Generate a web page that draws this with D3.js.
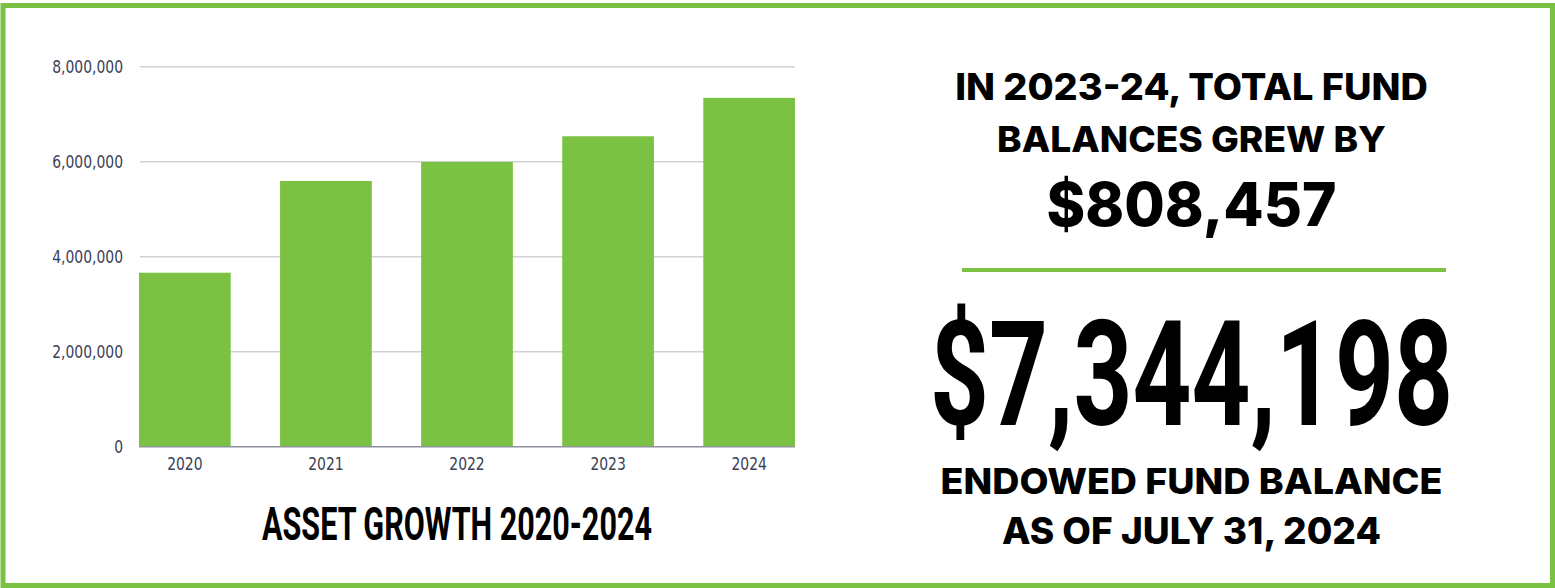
<!DOCTYPE html>
<html>
<head>
<meta charset="utf-8">
<script src="https://cdn.jsdelivr.net/npm/d3@7"></script>
<style>
	body { margin: 0; background: #fff; }
	svg { display: block; }
	.tick text { font-family: 'DejaVu Sans Condensed', 'Liberation Sans Narrow', sans-serif; font-size: 18px; fill: #3b4257; }
	.grid line { stroke: #cfd2d8; stroke-width: 1.5px; }
	.hl { font-family: Inter, 'Open Sans', sans-serif; font-weight: 800; fill: #000; }
	.cond { font-family: Roboto, 'DejaVu Sans Condensed', sans-serif; font-weight: 700; fill: #000; }
</style>
</head>
<body>
<svg id="chart"></svg>
<script>
'use strict';
//Chart data.
const years = ['2020', '2021', '2022', '2023', '2024'];
const balances = [3663000, 5594000, 5995000, 6535741, 7344198];
const yTicks = [0, 2000000, 4000000, 6000000, 8000000];
//Headline texts on the right.
const topLines = ['IN 2023-24, TOTAL FUND', 'BALANCES GREW BY'];
const growth = '$808,457';
const total = '$7,344,198';
const bottomLines = ['ENDOWED FUND BALANCE', 'AS OF JULY 31, 2024'];
const title = 'ASSET GROWTH 2020-2024';

const W = 1555, H = 588;
const green = '#7bc143';
const svg = d3.select('#chart').attr('width', W).attr('height', H);

//Green frame round the whole picture.
svg.append('rect')
	.attr('x', 3).attr('y', 5.5)
	.attr('width', W - 5.5).attr('height', H - 8)
	.style('fill', 'none')
	.style('stroke', green)
	.style('stroke-width', 5);

const x = d3.scaleBand().domain(years).range([139, 795]).paddingInner(0.35).paddingOuter(0);
const y = d3.scaleLinear().domain([0, 8000000]).range([446.7, 66.7]);

//Gridlines.
svg.append('g')
	.attr('class', 'grid')
	.selectAll('line')
	.data(yTicks.slice(1))
	.join('line')
	.attr('x1', 140).attr('x2', 795)
	.attr('y1', d => y(d)).attr('y2', d => y(d));

//Bars.
svg.append('g')
	.selectAll('rect')
	.data(balances)
	.join('rect')
	.attr('x', (d, i) => x(years[i]))
	.attr('y', d => y(d))
	.attr('width', x.bandwidth())
	.attr('height', d => y(0) - y(d))
	.style('fill', green);

//Baseline.
svg.append('line')
	.attr('x1', 139).attr('x2', 795)
	.attr('y1', y(0)).attr('y2', y(0))
	.style('stroke', '#8d929c')
	.style('stroke-width', 1.5);

//Axes, no lines, labels only.
const yAxis = svg.append('g')
	.attr('transform', 'translate(131,0)')
	.call(d3.axisLeft(y).tickValues(yTicks).tickFormat(d3.format(',')).tickSize(0).tickPadding(8));
yAxis.select('.domain').remove();

const xAxis = svg.append('g')
	.attr('transform', `translate(0,${y(0)})`)
	.call(d3.axisBottom(x).tickSize(0).tickPadding(11));
xAxis.select('.domain').remove();

//Squeeze the tick labels a bit, the original face is narrower.
yAxis.selectAll('.tick text').each(function() {
	const t = d3.select(this);
	t.attr('transform', `translate(${t.attr('x')},0) scale(0.86,1)`).attr('x', 0);
});
xAxis.selectAll('.tick text').attr('transform', 'scale(0.86,1)');

//Place a text centred at cx, scaled sideways to a given width.
function fitText(txt, cx, base, size, width, cls) {
	const t = svg.append('text')
		.attr('class', cls)
		.attr('text-anchor', 'middle')
		.style('font-size', size + 'px')
		.text(txt);
	const k = width / t.node().getComputedTextLength();
	t.attr('transform', `translate(${cx},${base}) scale(${k},1)`);
	return t;
}

//Chart title.
fitText(title, 457, 540, 46, 390, 'cond');

//Right hand headline.
const cx = 1191.5;
fitText(topLines[0], cx, 99.5, 36.5, 473, 'hl');
fitText(topLines[1], cx, 151.7, 35.5, 389, 'hl');
fitText(growth, cx, 226, 60, 290, 'hl');
svg.append('line')
	.attr('x1', 962).attr('x2', 1446)
	.attr('y1', 270).attr('y2', 270)
	.style('stroke', green)
	.style('stroke-width', 4);
fitText(total, cx, 425, 146, 523, 'cond');
fitText(bottomLines[0], cx, 493.5, 36, 502, 'hl');
fitText(bottomLines[1], cx, 544, 36.5, 379, 'hl');
</script>
</body>
</html>
